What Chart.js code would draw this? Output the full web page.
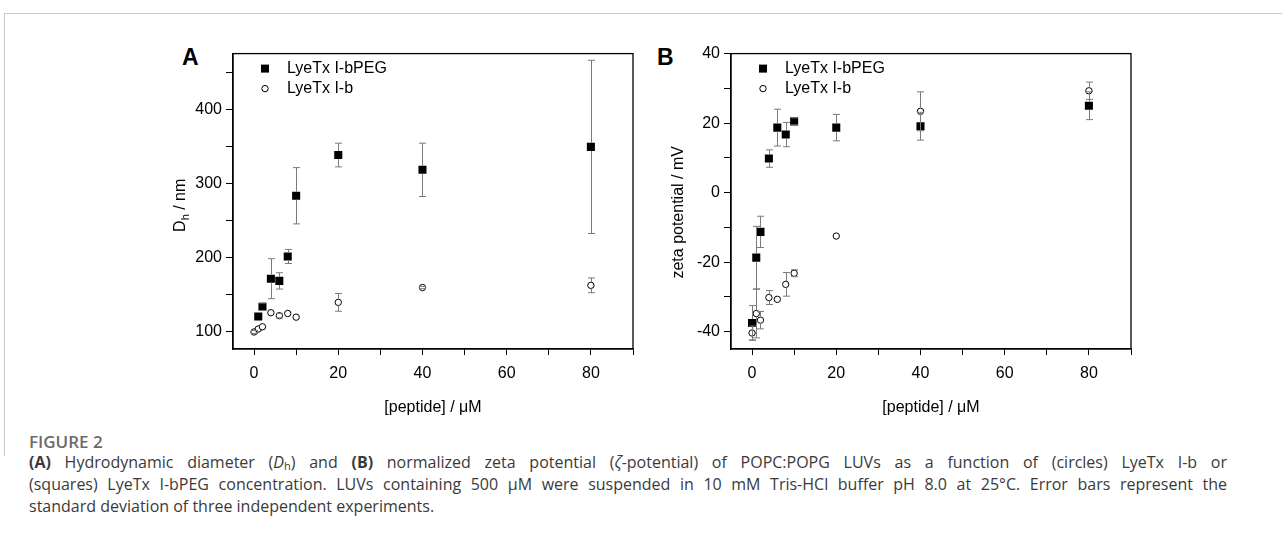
<!DOCTYPE html>
<html>
<head>
<meta charset="utf-8">
<script src="https://cdn.jsdelivr.net/npm/chart.js@4.4.0/dist/chart.umd.min.js"></script>
<style>
body { margin:0; width:1282px; height:543px; background:#fff; position:relative; overflow:hidden; font-family:"Liberation Sans", Arial, sans-serif; }
#frame { position:absolute; left:4px; top:13px; width:1278px; height:442px; border-top:1px solid #c8c8c8; border-left:1px solid #c8c8c8; }
.panel { position:absolute; top:40px; width:520px; height:390px; }
#boxA { left:130px; }
#boxB { left:628px; }
.tag { position:absolute; top:44px; font:bold 23px "Liberation Sans", Arial, sans-serif; color:#000; }
#fig { position:absolute; left:29px; top:430px; font:600 17px "Open Sans", "Noto Sans", sans-serif; color:#6a6a6a; }
#cap { position:absolute; left:29px; top:451px; width:1198px; font:16px "Open Sans", "Noto Sans", sans-serif; line-height:22px; color:#3a3a3a; }
#cap .j { text-align:justify; text-align-last:justify; white-space:nowrap; }
#cap sub { font-size:11px; vertical-align:-2px; line-height:0; }
</style>
</head>
<body>
<div id="frame"></div>
<div class="tag" style="left:182px;">A</div>
<div class="tag" style="left:657px;">B</div>
<div class="panel" id="boxA"><canvas id="chartA" width="520" height="390"></canvas></div>
<div class="panel" id="boxB"><canvas id="chartB" width="520" height="390"></canvas></div>
<div id="fig">FIGURE 2</div>
<div id="cap">
<div class="j"><b>(A)</b> Hydrodynamic diameter (<i>D</i><sub>h</sub>) and <b>(B)</b> normalized zeta potential (<i>ζ</i>-potential) of POPC:POPG LUVs as a function of (circles) LyeTx I-b or</div>
<div class="j">(squares) LyeTx I-bPEG concentration. LUVs containing 500 μM were suspended in 10 mM Tris-HCl buffer pH 8.0 at 25°C. Error bars represent the</div>
<div>standard deviation of three independent experiments.</div>
</div>

<script>
// peptide concentration (uM)
var conc = [0, 1, 2, 4, 6, 8, 10, 20, 40, 80];

// panel A: hydrodynamic diameter (nm)
var dhPeg = [null, 121, 134, 172, 169, 202, 284, 339, 319, 350];
var dhPegErr = [null, 0, 5, 27, 11, 9.5, 38, 16, 36, 117];
var dhFree = [100, 104, 107, 126, 122, 125, 120, 140, 160, 163];
var dhFreeErr = [2, 0, 0, 0, 3, 0, 0, 12, 1.5, 10];

// panel B: zeta potential (mV)
var zetaPeg = [-37.5, -18.7, -11.3, 9.8, 18.7, 16.7, 20.5, 18.7, 19.1, 25];
var zetaPegErr = [5, 9, 4.5, 2.5, 5.3, 3.5, 1, 3.8, 4, 4];
var zetaFree = [-40.4, -34.8, -36.7, -30.2, -30.7, -26.4, -23.2, -12.5, 23.4, 29.3];
var zetaFreeErr = [2, 7, 2.5, 2, 0, 3.4, 1, 0, 5.6, 2.5];

var xTicks = [0, 10, 20, 30, 40, 50, 60, 70, 80, 90];
var dhTicks = [100, 150, 200, 250, 300, 350, 400, 450];
var zetaTicks = [-40, -30, -20, -10, 0, 10, 20, 30, 40];

var seriesNames = ['LyeTx I-bPEG', 'LyeTx I-b'];
var axisFont = { family: '"Liberation Sans", Arial, sans-serif', size: 16 };
var fontStr = '16px "Liberation Sans", Arial, sans-serif';
var subStr = '11px "Liberation Sans", Arial, sans-serif';

function toPoints(vals) {
    var pts = [];
    for (var i in conc) {
        if (vals[i] !== null) pts.push({ x: conc[i], y: vals[i] });
    }
    return pts;
}

// error bars, frame, legend, y title
var extras = {
    id: 'extras',
    afterDatasetsDraw: function (chart) {
        var ctx = chart.ctx;
        var ys = chart.scales.y;
        var xs = chart.scales.x;
        ctx.save();
        ctx.strokeStyle = '#7a7a7a';
        ctx.lineWidth = 1;
        chart.data.datasets.forEach(function (ds) {
            var r = ds.pointStyle === 'rect' ? 4 : 3;
            ds.errs.forEach(function (e, i) {
                if (!e || ds.vals[i] === null) return;
                var px = Math.round(xs.getPixelForValue(conc[i])) + 0.5;
                var yc = ys.getPixelForValue(ds.vals[i]);
                var yt = ys.getPixelForValue(ds.vals[i] + e);
                var yb = ys.getPixelForValue(ds.vals[i] - e);
                ctx.beginPath();
                if (yt < yc - r) { ctx.moveTo(px, yt); ctx.lineTo(px, yc - r); }
                if (yb > yc + r) { ctx.moveTo(px, yc + r); ctx.lineTo(px, yb); }
                ctx.moveTo(px - 3.5, yt); ctx.lineTo(px + 3.5, yt);
                ctx.moveTo(px - 3.5, yb); ctx.lineTo(px + 3.5, yb);
                ctx.stroke();
            });
        });
        ctx.restore();
    },
    afterDraw: function (chart) {
        var ctx = chart.ctx;
        var a = chart.chartArea;
        var t = chart.options.plugins.extras;
        ctx.save();
        ctx.strokeStyle = '#000';
        ctx.lineWidth = 1.3;
        ctx.strokeRect(a.left, a.top, a.right - a.left, a.bottom - a.top);

        // legend
        ctx.font = fontStr;
        ctx.fillStyle = '#000';
        ctx.textBaseline = 'middle';
        ctx.fillRect(a.left + 28, a.top + 11, 8, 8);
        ctx.fillText(seriesNames[0], a.left + 54, a.top + 15);
        ctx.beginPath();
        ctx.arc(a.left + 32, a.top + 35, 3.2, 0, Math.PI * 2);
        ctx.lineWidth = 1;
        ctx.stroke();
        ctx.fillText(seriesNames[1], a.left + 54, a.top + 35);

        // rotated y title, optional subscript
        ctx.translate(a.left - 54, (a.top + a.bottom) / 2 + t.dy);
        ctx.rotate(-Math.PI / 2);
        ctx.textBaseline = 'alphabetic';
        var w1 = ctx.measureText(t.main).width;
        var w3 = ctx.measureText(t.rest).width;
        ctx.font = subStr;
        var w2 = t.sub ? ctx.measureText(t.sub).width : 0;
        var x0 = -(w1 + w2 + w3) / 2;
        if (t.sub) ctx.fillText(t.sub, x0 + w1, 10);
        ctx.font = fontStr;
        ctx.fillText(t.main, x0, 6);
        ctx.fillText(t.rest, x0 + w1 + w2, 6);
        ctx.restore();
    }
};

function makeChart(id, peg, pegErr, free, freeErr, yMin, yMax, yTicks, yEvery, yTitle) {
    return new Chart(document.getElementById(id), {
        type: 'scatter',
        data: {
            datasets: [{
                label: seriesNames[0],
                data: toPoints(peg),
                vals: peg,
                errs: pegErr,
                pointStyle: 'rect',
                pointRadius: 5.7,
                backgroundColor: '#000',
                borderColor: '#000',
                borderWidth: 0,
                order: 2
            }, {
                label: seriesNames[1],
                data: toPoints(free),
                vals: free,
                errs: freeErr,
                pointStyle: 'circle',
                pointRadius: 3.2,
                backgroundColor: '#fff',
                borderColor: '#000',
                borderWidth: 1,
                order: 1
            }]
        },
        options: {
            responsive: false,
            animation: false,
            layout: { padding: { top: 13, right: 17, left: 0, bottom: 0 } },
            plugins: {
                legend: { display: false },
                tooltip: { enabled: false },
                extras: yTitle
            },
            scales: {
                x: {
                    type: 'linear',
                    min: -5,
                    max: 90,
                    afterBuildTicks: function (s) { s.ticks = xTicks.map(function (v) { return { value: v }; }); },
                    afterFit: function (s) { s.height = 81; },
                    ticks: {
                        font: axisFont, color: '#000', padding: 9, maxRotation: 0, autoSkip: false,
                        callback: function (v) { return v % 20 === 0 ? String(v) : ''; }
                    },
                    grid: { drawOnChartArea: false, tickLength: 6, tickColor: '#000', color: '#000' },
                    border: { color: '#000', width: 1.3 },
                    title: { display: true, text: '[peptide] / μM', font: axisFont, color: '#000', padding: { top: 0, bottom: 13 } }
                },
                y: {
                    type: 'linear',
                    min: yMin,
                    max: yMax,
                    afterBuildTicks: function (s) { s.ticks = yTicks.map(function (v) { return { value: v }; }); },
                    afterFit: function (s) { s.width = 103; },
                    ticks: {
                        font: axisFont, color: '#000', padding: 4, autoSkip: false,
                        callback: function (v) { return v % yEvery === 0 ? String(v) : ''; }
                    },
                    grid: { drawOnChartArea: false, tickLength: 7, tickColor: '#000', color: '#000' },
                    border: { color: '#000', width: 1.3 }
                }
            }
        },
        plugins: [extras]
    });
}

makeChart('chartA', dhPeg, dhPegErr, dhFree, dhFreeErr, 77, 476, dhTicks, 100,
    { main: 'D', sub: 'h', rest: ' / nm', dy: 4 });
makeChart('chartB', zetaPeg, zetaPegErr, zetaFree, zetaFreeErr, -45, 40, zetaTicks, 20,
    { main: 'zeta potential / mV', sub: '', rest: '', dy: 11 });
</script>
</body>
</html>
